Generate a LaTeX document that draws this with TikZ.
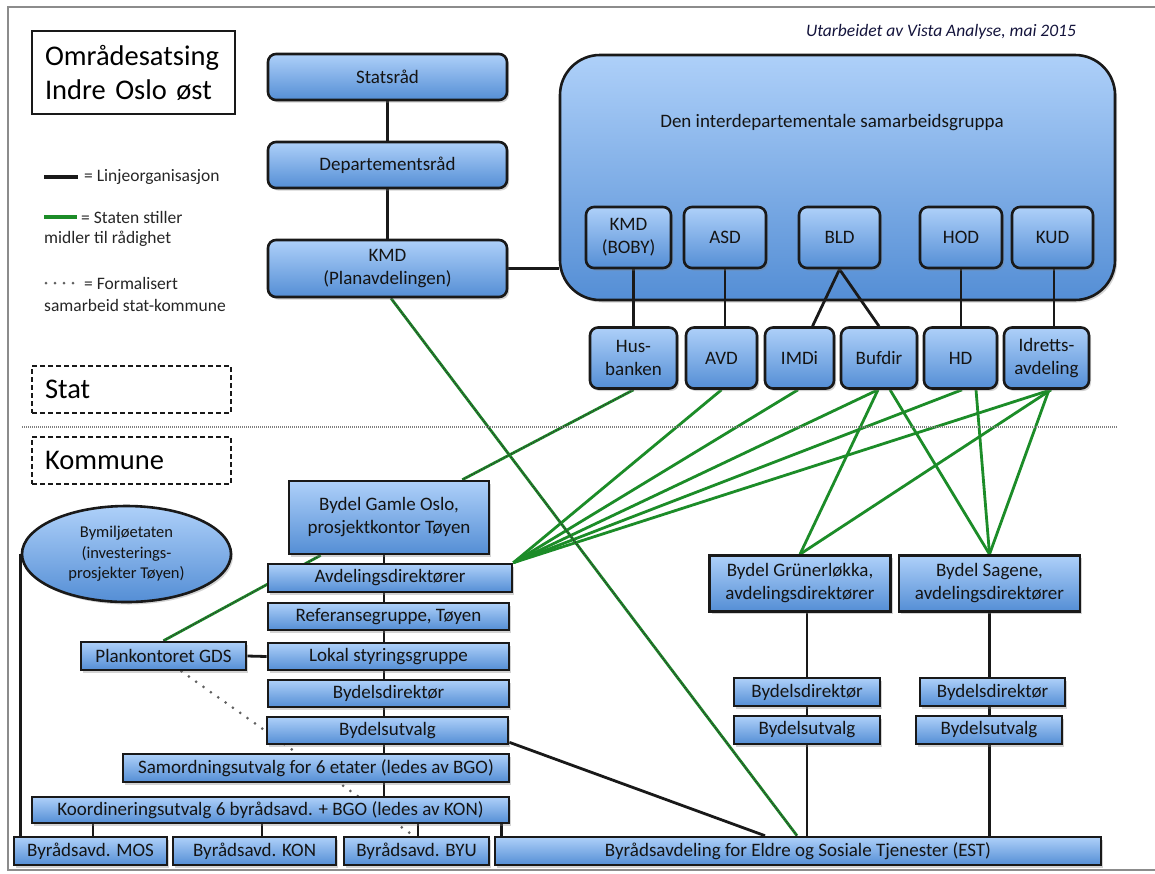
\documentclass[tikz,border=0pt]{standalone}
\usepackage{fontspec}
\setmainfont{Carlito}
\usepackage{xcolor}
\usepackage{tikz}
\usetikzlibrary{shapes.geometric, shadows, backgrounds, positioning}
\pgfdeclarelayer{back}
\pgfsetlayers{back,background,main}

\definecolor{boxtop}{RGB}{174,208,249}
\definecolor{boxbot}{RGB}{84,142,213}
\definecolor{linegreen}{RGB}{28,140,40}
\definecolor{framegray}{RGB}{140,140,140}
\definecolor{credit}{RGB}{20,20,60}

\tikzset{
    sz/.style 2 args={minimum width=#1pt, minimum height=#2pt},
    statbox/.style={
        draw=black!90,
        line width=2.6pt,
        rounded corners=8pt,
        top color=boxtop,
        bottom color=boxbot,
        drop shadow={shadow xshift=2pt, shadow yshift=-2.5pt, opacity=0.35},
        inner sep=0pt,
        align=center,
        text=black!92,
        font=\fontsize{19}{23}\selectfont,
    },
    kommbox/.style={statbox, sharp corners},
    labelbox/.style={
        draw=black!90,
        line width=2.2pt,
        inner xsep=13pt,
        inner ysep=0pt,
        align=left,
        font=\fontsize{28.5}{34}\selectfont,
    },
    legtext/.style={anchor=west, inner sep=0pt, text=black!85, font=\fontsize{17.5}{21}\selectfont},
    linje/.style={line width=2.8pt, black!90},
    midler/.style={line width=2.8pt, linegreen},
    midlerformal/.style={midler, postaction={draw=black!80, line width=1.2pt, dash pattern=on 1.2pt off 1.6pt}},
    formal/.style={line width=3pt, gray!75!black, line cap=round, dash pattern=on 0pt off 9pt},
}

\begin{document}
\begin{tikzpicture}[x=1pt, y=-1pt]
    \useasboundingbox (0,0) rectangle (1155,873);
    \draw[framegray, line width=2pt] (1155,6.5) -- (7.5,6.5) -- (7.5,869.5) -- (1155,869.5);

    % title and credit
    \node[labelbox, sz={203}{83}, text width=177pt] (Title) at (133.5,72.5) {Områdesatsing\\Indre Oslo øst};
    \node[font=\itshape\fontsize{17.5}{21}\selectfont, text=credit] (Credit) at (941,32) {Utarbeidet av Vista Analyse, mai 2015};

    % legend
    \node[legtext] (LegA) at (84,177) {= Linjeorganisasjon};
    \node[legtext] (LegB) at (81,217) {= Staten stiller};
    \node[legtext] (LegBb) at (44,239) {midler til rådighet};
    \node[legtext] (LegC) at (84,283) {= Formalisert};
    \node[legtext] (LegCb) at (44,305) {samarbeid stat-kommune};
    \draw[linje, line width=3.2pt] ([xshift=-40pt]LegA.west) -- ([xshift=-6pt]LegA.west);
    \draw[midler, line width=3.2pt] ([xshift=-37pt]LegB.west) -- ([xshift=-4pt]LegB.west);
    \draw[formal] ([xshift=-38pt]LegC.west) -- ([xshift=-8pt]LegC.west);

    % stat / kommune
    \node[labelbox, dashed, dash pattern=on 5pt off 3pt, sz={199}{47}, text width=173pt] (Stat) at (131.5,389.5) {Stat};
    \node[labelbox, dashed, dash pattern=on 5pt off 3pt, sz={199}{47}, text width=173pt] (Kommune) at (131.5,460.5) {Kommune};
    \draw[gray, line width=2pt, dash pattern=on 1pt off 1pt] (22,427) -- (1118,427);

    % departementene
    \node[statbox, sz={239}{46}] (Stats) at (387.5,77) {Statsråd};
    \node[statbox, sz={239}{46}] (Dep) at (387.5,165) {Departementsråd};
    \node[statbox, sz={239}{57}] (KMD) at (387.5,268.5) {KMD\\(Planavdelingen)};

    \begin{pgfonlayer}{back}
        \node[statbox, rounded corners=40pt, sz={555}{245}] (Grp) at (837.5,177.5) {};
    \end{pgfonlayer}
    \node[font=\fontsize{19}{23}\selectfont, text=black!92] (GrpLbl) at (832,123) {Den interdepartementale samarbeidsgruppa};

    \node[statbox, sz={85}{61}] (KMDB) at (628.5,237.5) {KMD\\(BOBY)};
    \node[statbox, sz={82}{61}] (ASD) at (725,237.5) {ASD};
    \node[statbox, sz={81}{61}] (BLD) at (839.5,237.5) {BLD};
    \node[statbox, sz={82}{61}] (HOD) at (961,237.5) {HOD};
    \node[statbox, sz={81}{61}] (KUD) at (1052.5,237.5) {KUD};

    % direktorater
    \node[statbox, sz={87}{61}] (Husb) at (633.5,358) {Hus-\\banken};
    \node[statbox, sz={71}{61}] (AVD) at (721.5,358) {AVD};
    \node[statbox, sz={69}{61}] (IMDi) at (799.5,358) {IMDi};
    \node[statbox, sz={76}{61}] (Bufdir) at (879,358) {Bufdir};
    \node[statbox, sz={73}{61}] (HD) at (960.5,358) {HD};
    \node[statbox, sz={85}{61}] (Idr) at (1046.5,358) {Idretts-\\avdeling};

    % bydel gamle oslo
    \node[kommbox, sz={200}{73}] (GO) at (389,517.5) {Bydel Gamle Oslo,\\prosjektkontor Tøyen};
    \node[kommbox, sz={244}{28}] (Avd) at (390,578) {Avdelingsdirektører};
    \node[kommbox, sz={241}{27}] (Ref) at (388.5,616.5) {Referansegruppe, Tøyen};
    \node[kommbox, sz={241}{27}] (Lokal) at (388.5,656.5) {Lokal styringsgruppe};
    \node[kommbox, sz={165}{28}] (Plan) at (163.5,656) {Plankontoret GDS};
    \node[kommbox, sz={241}{27}] (Bdir) at (388.5,693.5) {Bydelsdirektør};
    \node[kommbox, sz={241}{27}] (Butv) at (387.5,730.5) {Bydelsutvalg};
    \node[kommbox, sz={386}{28}] (Samo) at (316,768) {Samordningsutvalg for 6 etater (ledes av BGO)};
    \node[kommbox, sz={477}{26}] (Koord) at (270.5,810) {Koordineringsutvalg 6 byrådsavd. + BGO (ledes av KON)};
    \node[statbox, sharp corners, ellipse, sz={209}{96}, font=\fontsize{16.5}{20.5}\selectfont] (Bym) at (126.5,554) {Bymiljøetaten\\(investerings-\\prosjekter Tøyen)};

    % byraadsavdelinger
    \node[kommbox, sz={153}{28}] (MOS) at (90.5,851) {Byrådsavd. MOS};
    \node[kommbox, sz={163}{28}] (KON) at (254.5,851) {Byrådsavd. KON};
    \node[kommbox, sz={145}{28}] (BYU) at (416.5,851) {Byrådsavd. BYU};
    \node[kommbox, sz={606}{28}] (EST) at (798,851) {Byrådsavdeling for Eldre og Sosiale Tjenester (EST)};

    % andre bydeler
    \node[kommbox, sz={181}{56}] (Grun) at (800,583.5) {Bydel Grünerløkka,\\avdelingsdirektører};
    \node[kommbox, sz={181}{56}] (Sag) at (989.5,583.5) {Bydel Sagene,\\avdelingsdirektører};
    \node[kommbox, sz={146}{28}] (BdirL) at (807,692) {Bydelsdirektør};
    \node[kommbox, sz={145}{28}] (BdirR) at (992.5,692) {Bydelsdirektør};
    \node[kommbox, sz={146}{28}] (ButvL) at (807,730) {Bydelsutvalg};
    \node[kommbox, sz={146}{28}] (ButvR) at (989,730) {Bydelsutvalg};

    \begin{scope}[on background layer]
        % linjeorganisasjon
        \draw[linje] (Stats) -- (Dep) -- (KMD);
        \draw[linje] (KMD.east) -- (KMD.east -| Grp.west);
        \draw[linje] (Husb.north) -- (Husb.north |- KMDB.south);
        \draw[linje] (ASD.south) -- (ASD.south |- AVD.north);
        \draw[linje] ([xshift=13pt]IMDi.north) -- (BLD.south) -- (Bufdir.north);
        \draw[linje] (HOD.south) -- (HOD.south |- HD.north);
        \draw[linje] ([xshift=1.5pt]KUD.south) -- ([xshift=1.5pt]KUD.south |- Idr.north);
        \draw[linje] ([xshift=-5pt]GO.south) -- ([xshift=-5pt]GO.south |- Koord.north);
        \draw[linje] (Plan.east) -- (Lokal.west);
        \draw[linje] ([yshift=3pt]Butv.south east) -- ([xshift=-33pt]EST.north);
        \draw[linje] (Bym.west) -- (Bym.west |- MOS.north);
        \draw[linje] ([xshift=2.5pt]MOS.north) -- ([xshift=2.5pt]MOS.north |- Koord.south);
        \draw[linje] ([xshift=7.5pt]KON.north) -- ([xshift=7.5pt]KON.north |- Koord.south);
        \draw[linje] ([xshift=1.5pt]BYU.north) -- ([xshift=1.5pt]BYU.north |- Koord.south);
        \draw[linje] ([xshift=8pt]EST.north west) -- ([xshift=8pt]EST.north west |- Koord.south);
        \draw[linje] (BdirL.north |- Grun.south) -- (BdirL.south |- EST.north);
        \draw[linje] (Sag.south) -- (Sag.south |- EST.north);

        % midler
        \draw[midler] (Avd.north east) -- (AVD.south);
        \draw[midler] (Avd.north east) -- ([xshift=-1.5pt]IMDi.south);
        \draw[midler] (Avd.north east) -- ([xshift=-1pt]Bufdir.south);
        \draw[midler] (Avd.north east) -- ([xshift=1.5pt]HD.south);
        \draw[midler] (Avd.north east) -- ([xshift=4.5pt]Idr.south);
        \draw[midler] (Grun.north) -- ([xshift=-1pt]Bufdir.south);
        \draw[midler] (Grun.north) -- ([xshift=4.5pt]Idr.south);
        \draw[midler] (Sag.north) -- ([xshift=11pt]Bufdir.south);
        \draw[midler] (Sag.north) -- ([xshift=15.5pt]HD.south);
        \draw[midler] (Sag.north) -- ([xshift=2.5pt]Idr.south);
        \draw[midlerformal] ([xshift=3.5pt]KMD.south) -- ([xshift=-1pt]EST.north);
        \draw[midlerformal] (Husb.south) -- ([xshift=-28pt]GO.north east);
        \draw[midlerformal] (Plan.north) -- ([xshift=33pt]GO.south west);

        % formalisert samarbeid
        \draw[formal] ([xshift=18pt]Plan.south) -- ([xshift=-3pt]BYU.north);
    \end{scope}
\end{tikzpicture}
\end{document}
